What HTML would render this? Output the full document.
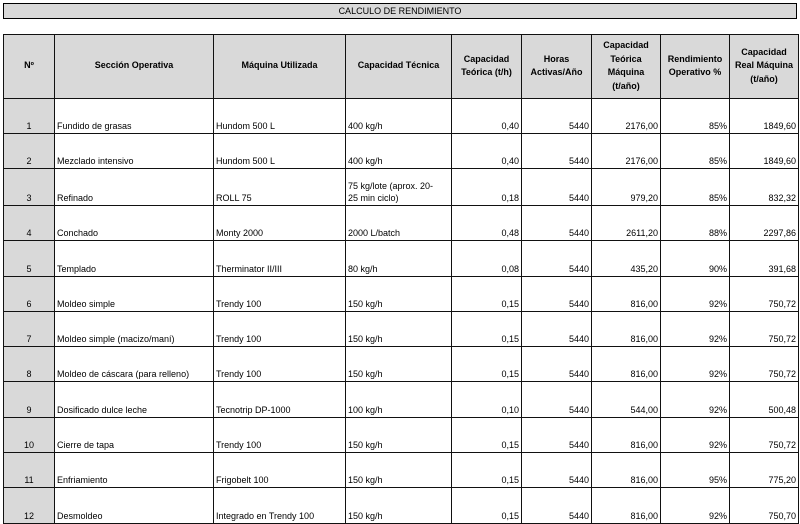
<!DOCTYPE html>
<html><head><meta charset="utf-8"><style>
html,body{margin:0;padding:0;background:#fff;width:800px;height:524px;overflow:hidden}
body{font-family:"Liberation Sans",sans-serif;font-size:9px;color:#000;position:relative}
.title{position:absolute;left:3px;top:3px;width:792px;height:14px;border:1.5px solid #000;background:#d9d9d9;text-align:center;line-height:14px;font-size:9px}
table{position:absolute;left:3px;top:34px;border-collapse:collapse;table-layout:fixed}
td,th{border:1.3px solid #111;padding:0 2px 1px 2px;vertical-align:bottom;overflow:hidden;line-height:12px;white-space:nowrap}
th{background:#d9d9d9;font-weight:bold;text-align:center;vertical-align:middle;height:62px;line-height:13.5px}
td.n{background:#d9d9d9;text-align:center}
td.r{text-align:right}
</style></head><body>
<div class="title">CALCULO DE RENDIMIENTO</div>
<table>
<colgroup><col style="width:51px"><col style="width:159px"><col style="width:132px"><col style="width:106px"><col style="width:70px"><col style="width:70px"><col style="width:69px"><col style="width:69px"><col style="width:69px"></colgroup>
<tr><th>Nº</th><th>Sección Operativa</th><th>Máquina Utilizada</th><th>Capacidad Técnica</th><th>Capacidad<br>Teórica (t/h)</th><th>Horas<br>Activas/Año</th><th>Capacidad<br>Teórica<br>Máquina<br>(t/año)</th><th>Rendimiento<br>Operativo %</th><th>Capacidad<br>Real Máquina<br>(t/año)</th></tr>
<tr style="height:35px"><td class="n">1</td><td>Fundido de grasas</td><td>Hundom 500 L</td><td>400 kg/h</td><td class="r">0,40</td><td class="r">5440</td><td class="r">2176,00</td><td class="r">85%</td><td class="r">1849,60</td></tr>
<tr style="height:35px"><td class="n">2</td><td>Mezclado intensivo</td><td>Hundom 500 L</td><td>400 kg/h</td><td class="r">0,40</td><td class="r">5440</td><td class="r">2176,00</td><td class="r">85%</td><td class="r">1849,60</td></tr>
<tr style="height:37px"><td class="n">3</td><td>Refinado</td><td>ROLL 75</td><td>75 kg/lote (aprox. 20-<br>25 min ciclo)</td><td class="r">0,18</td><td class="r">5440</td><td class="r">979,20</td><td class="r">85%</td><td class="r">832,32</td></tr>
<tr style="height:35px"><td class="n">4</td><td>Conchado</td><td>Monty 2000</td><td>2000 L/batch</td><td class="r">0,48</td><td class="r">5440</td><td class="r">2611,20</td><td class="r">88%</td><td class="r">2297,86</td></tr>
<tr style="height:36px"><td class="n">5</td><td>Templado</td><td>Therminator II/III</td><td>80 kg/h</td><td class="r">0,08</td><td class="r">5440</td><td class="r">435,20</td><td class="r">90%</td><td class="r">391,68</td></tr>
<tr style="height:35px"><td class="n">6</td><td>Moldeo simple</td><td>Trendy 100</td><td>150 kg/h</td><td class="r">0,15</td><td class="r">5440</td><td class="r">816,00</td><td class="r">92%</td><td class="r">750,72</td></tr>
<tr style="height:35px"><td class="n">7</td><td>Moldeo simple (macizo/maní)</td><td>Trendy 100</td><td>150 kg/h</td><td class="r">0,15</td><td class="r">5440</td><td class="r">816,00</td><td class="r">92%</td><td class="r">750,72</td></tr>
<tr style="height:35px"><td class="n">8</td><td>Moldeo de cáscara (para relleno)</td><td>Trendy 100</td><td>150 kg/h</td><td class="r">0,15</td><td class="r">5440</td><td class="r">816,00</td><td class="r">92%</td><td class="r">750,72</td></tr>
<tr style="height:36px"><td class="n">9</td><td>Dosificado dulce leche</td><td>Tecnotrip DP-1000</td><td>100 kg/h</td><td class="r">0,10</td><td class="r">5440</td><td class="r">544,00</td><td class="r">92%</td><td class="r">500,48</td></tr>
<tr style="height:35px"><td class="n">10</td><td>Cierre de tapa</td><td>Trendy 100</td><td>150 kg/h</td><td class="r">0,15</td><td class="r">5440</td><td class="r">816,00</td><td class="r">92%</td><td class="r">750,72</td></tr>
<tr style="height:35px"><td class="n">11</td><td>Enfriamiento</td><td>Frigobelt 100</td><td>150 kg/h</td><td class="r">0,15</td><td class="r">5440</td><td class="r">816,00</td><td class="r">95%</td><td class="r">775,20</td></tr>
<tr style="height:36px"><td class="n">12</td><td>Desmoldeo</td><td>Integrado en Trendy 100</td><td>150 kg/h</td><td class="r">0,15</td><td class="r">5440</td><td class="r">816,00</td><td class="r">92%</td><td class="r">750,70</td></tr>
</table>
</body></html>
